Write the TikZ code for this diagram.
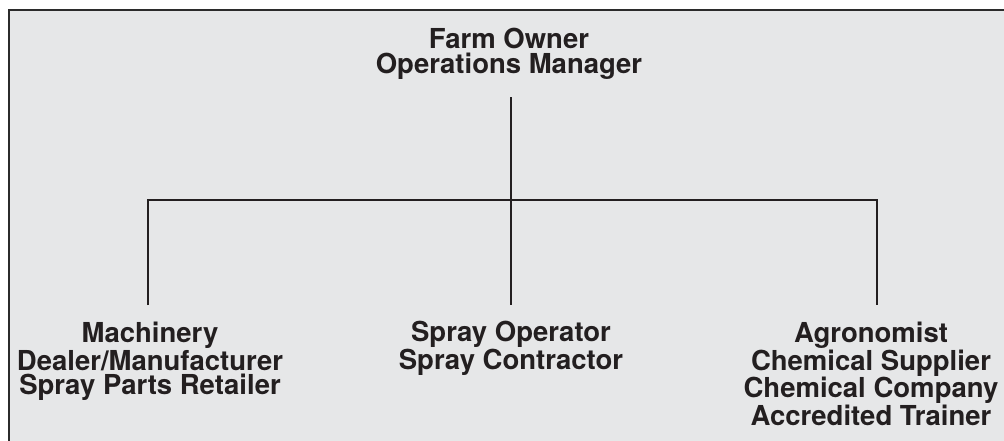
\documentclass[tikz,border=0pt]{standalone}
\usepackage{fontspec}
\setmainfont{TeX Gyre Heros}
\definecolor{ink}{HTML}{231F20}
\definecolor{panel}{HTML}{E6E7E8}
\definecolor{frame}{HTML}{2B2B2B}
\begin{document}
\begin{tikzpicture}[x=1pt,y=-1pt,
  lbl/.style={anchor=north,inner sep=0pt,outer sep=0pt,align=center,text=ink,
    font=\fontsize{27.5}{24.8}\selectfont\bfseries},
  conn/.style={draw=ink,line width=2.3pt,line cap=butt,line join=miter}]
\useasboundingbox (0,0) rectangle (1004,440);
\fill[white] (0,0) rectangle (1004,440);
\filldraw[fill=panel,draw=frame,line width=1.5pt] (9,10) rectangle (1012,448);
\node[lbl] (top) at (509,28.5) {Farm Owner\\Operations Manager};
\node[lbl] (l) at (150,322.5) {Machinery\\Dealer/Manufacturer\\Spray Parts Retailer};
\node[lbl] (m) at (511,321.5) {Spray Operator\\Spray Contractor};
\node[lbl] (r) at (871,322.5) {Agronomist\\Chemical Supplier\\Chemical Company\\Accredited Trainer};
\coordinate (lb) at (148,200);
\coordinate (mb) at (511,200);
\coordinate (rb) at (877,200);
\coordinate (tl) at (511,97);
\coordinate (le) at (148,305);
\coordinate (me) at (511,305);
\coordinate (re) at (877,305);
\draw[conn] (tl) -- (me);
\draw[conn] (le) -- (lb) -- (rb) -- (re);
\end{tikzpicture}
\end{document}
